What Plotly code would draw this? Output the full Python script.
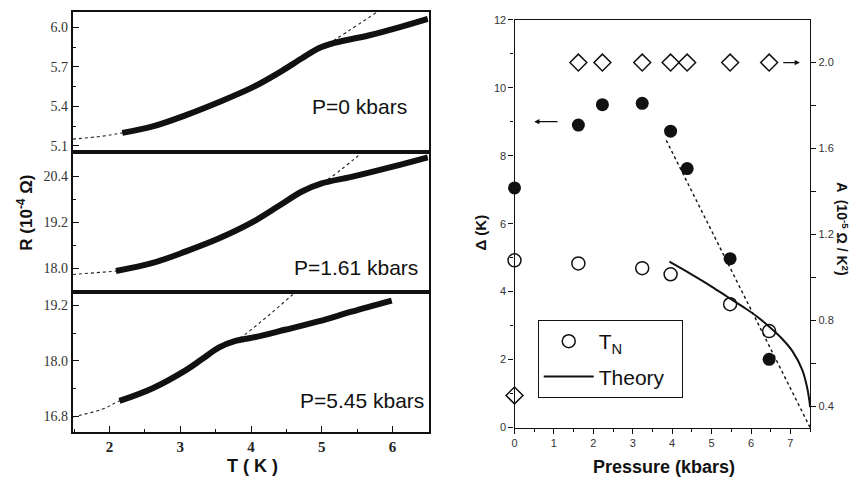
import plotly.graph_objects as go

# ---------------- Left panel data: R(T) at three pressures ----------------
T_p0 = [2.18, 2.61, 3.08, 3.55, 4.02, 4.39, 4.72, 4.95, 5.19, 5.66, 6.13, 6.50]
R_p0 = [5.198, 5.247, 5.333, 5.433, 5.544, 5.655, 5.766, 5.84, 5.885, 5.94, 6.008, 6.067]
Tfit_p0 = [1.48, 1.90, 2.18, 2.61, 3.08, 3.55, 4.02, 4.39, 4.72, 4.95, 5.09, 5.80]
Rfit_p0 = [5.15, 5.173, 5.198, 5.247, 5.333, 5.433, 5.544, 5.655, 5.766, 5.84, 5.877, 6.125]

T_p1 = [2.09, 2.61, 3.08, 3.55, 4.02, 4.39, 4.72, 5.00, 5.42, 5.99, 6.50]
R_p1 = [17.93, 18.14, 18.44, 18.78, 19.20, 19.62, 20.00, 20.21, 20.38, 20.64, 20.89]
Tfit_p1 = [1.48, 1.90, 2.09, 2.61, 3.08, 3.55, 4.02, 4.39, 4.72, 5.00, 5.60]
Rfit_p1 = [17.84, 17.90, 17.93, 18.14, 18.44, 18.78, 19.20, 19.62, 20.00, 20.21, 21.06]

T_p2 = [2.14, 2.61, 3.08, 3.31, 3.55, 3.78, 4.02, 4.48, 4.95, 5.42, 5.99]
R_p2 = [17.135, 17.41, 17.80, 18.04, 18.29, 18.43, 18.50, 18.67, 18.85, 19.06, 19.30]
Tfit_p2 = [1.48, 1.90, 2.14, 2.61, 3.08, 3.31, 3.55, 3.78, 4.70]
Rfit_p2 = [16.79, 16.96, 17.135, 17.41, 17.80, 18.04, 18.29, 18.43, 19.58]

panel_labels = ["P=0 kbars", "P=1.61 kbars", "P=5.45 kbars"]

# ---------------- Right panel data ----------------
P_gap = [0.0, 1.62, 2.23, 3.24, 3.96, 4.38, 5.47, 6.46]
gap = [7.05, 8.90, 9.50, 9.54, 8.72, 7.62, 4.97, 2.01]

P_TN = [0.0, 1.62, 3.24, 3.96, 5.47, 6.46]
TN = [4.92, 4.83, 4.69, 4.51, 3.63, 2.84]

P_A = [0.0, 1.62, 2.23, 3.24, 3.96, 4.38, 5.47, 6.46]
A = [0.45, 2.0, 2.0, 2.0, 2.0, 2.0, 2.0, 2.0]

P_lin = [3.85, 7.5]
gap_lin = [8.45, 0.0]

P_th = [3.93, 4.50, 5.00, 5.40, 5.80, 6.15, 6.50, 6.80, 7.05, 7.30, 7.42, 7.48, 7.50]
TN_th = [4.88, 4.50, 4.15, 3.85, 3.55, 3.27, 2.93, 2.60, 2.25, 1.70, 1.20, 0.80, 0.60]

SANS = "Liberation Sans, Arial, sans-serif"
SERIF = "Liberation Serif, Times New Roman, serif"
BLACK = "#111111"

fig = go.Figure()

def add_panel(T, R, Tf, Rf, xa, ya):
    fig.add_trace(go.Scatter(x=Tf, y=Rf, xaxis=xa, yaxis=ya, mode="lines",
                             line=dict(color="#222222", width=1.1, dash="dot", shape="spline"),
                             showlegend=False))
    fig.add_trace(go.Scatter(x=T, y=R, xaxis=xa, yaxis=ya, mode="lines",
                             line=dict(color=BLACK, width=6, shape="spline"),
                             showlegend=False))

add_panel(T_p0, R_p0, Tfit_p0, Rfit_p0, "x3", "y")
add_panel(T_p1, R_p1, Tfit_p1, Rfit_p1, "x2", "y2")
add_panel(T_p2, R_p2, Tfit_p2, Rfit_p2, "x", "y3")

fig.add_trace(go.Scatter(x=P_lin, y=gap_lin, xaxis="x4", yaxis="y4", mode="lines",
                         line=dict(color=BLACK, width=1.4, dash="dot"), showlegend=False))
fig.add_trace(go.Scatter(x=P_gap, y=gap, xaxis="x4", yaxis="y4", mode="markers",
                         marker=dict(symbol="circle", size=13, color=BLACK),
                         showlegend=False, cliponaxis=False))
fig.add_trace(go.Scatter(x=P_A, y=A, xaxis="x4", yaxis="y5", mode="markers",
                         marker=dict(symbol="diamond-open", size=13, color=BLACK,
                                     line=dict(width=1.5, color=BLACK)),
                         showlegend=False, cliponaxis=False))
fig.add_trace(go.Scatter(x=P_TN, y=TN, xaxis="x4", yaxis="y4", mode="markers",
                         marker=dict(symbol="circle-open", size=13, color=BLACK,
                                     line=dict(width=1.5, color=BLACK)),
                         name="T<sub>N</sub>", legendgroup="a", cliponaxis=False))
fig.add_trace(go.Scatter(x=P_th, y=TN_th, xaxis="x4", yaxis="y4", mode="lines",
                         line=dict(color=BLACK, width=2, shape="spline"),
                         name="Theory\u00a0\u00a0", legendgroup="b"))

XL = [0.0823, 0.5018]
XR = [0.6032, 0.9518]

left_tick_font = dict(family=SERIF, size=14, color="#333333")
common_left_y = dict(showline=True, linecolor=BLACK, linewidth=2, mirror=True,
                     ticks="inside", ticklen=6, tickwidth=1, tickcolor=BLACK,
                     tickfont=left_tick_font, showgrid=False, zeroline=False)
common_left_x = dict(showline=True, linecolor=BLACK, linewidth=2, mirror=True,
                     range=[1.48, 6.51], showgrid=False, zeroline=False, domain=XL)

right_tick_font = dict(family=SANS, size=11, color="#333333")

fig.update_layout(
    width=851, height=486, margin=dict(l=0, r=0, t=0, b=0),
    paper_bgcolor="white", plot_bgcolor="white",
    xaxis=dict(**common_left_x, anchor="y3", ticks="inside", ticklen=6, tickwidth=1,
               tickcolor=BLACK, tick0=2, dtick=1,
               tickfont=dict(family=SERIF, size=15, color="#222222", weight="bold"),
               minor=dict(dtick=0.5, tick0=2, ticks="inside", ticklen=3, tickcolor=BLACK)),
    xaxis2=dict(**common_left_x, anchor="y2", ticks="", showticklabels=False),
    xaxis3=dict(**common_left_x, anchor="y", ticks="", showticklabels=False),
    yaxis=dict(**common_left_y, anchor="x3", domain=[0.6914, 0.9877], range=[5.05, 6.12],
               tick0=5.1, dtick=0.3, tickformat=".1f",
               minor=dict(tick0=5.1, dtick=0.15, ticks="inside", ticklen=3, tickcolor=BLACK)),
    yaxis2=dict(**common_left_y, anchor="x2", domain=[0.3971, 0.6914], range=[17.39, 21.02],
                tick0=18.0, dtick=1.2, tickformat=".1f",
                minor=dict(tick0=18.0, dtick=0.6, ticks="inside", ticklen=3, tickcolor=BLACK)),
    yaxis3=dict(**common_left_y, anchor="x", domain=[0.1008, 0.3971], range=[16.46, 19.49],
                tick0=16.8, dtick=1.2, tickformat=".1f",
                minor=dict(tick0=16.8, dtick=0.6, ticks="inside", ticklen=3, tickcolor=BLACK)),
    xaxis4=dict(domain=XR, anchor="y4", range=[0, 7.5], showline=True, linecolor=BLACK,
                linewidth=1.3, mirror=True, ticks="outside", ticklen=5, tickcolor=BLACK,
                tick0=0, dtick=1, tickfont=right_tick_font, showgrid=False, zeroline=False,
                minor=dict(dtick=0.5, ticks="outside", ticklen=3, tickcolor=BLACK)),
    yaxis4=dict(domain=[0.1105, 0.9712], anchor="x4", range=[0, 12], showline=True,
                linecolor=BLACK, linewidth=1.3, ticks="outside", ticklen=5, tickcolor=BLACK,
                tick0=0, dtick=2, tickfont=right_tick_font, showgrid=False, zeroline=False,
                minor=dict(dtick=1, ticks="outside", ticklen=3, tickcolor=BLACK)),
    yaxis5=dict(overlaying="y4", side="right", anchor="x4", range=[0.3, 2.2],
                showline=True, linecolor=BLACK, linewidth=1.3, ticks="outside", ticklen=5,
                tickcolor=BLACK, tickvals=[0.4, 0.8, 1.2, 1.6, 2.0], tickformat=".1f",
                tickfont=right_tick_font, showgrid=False, zeroline=False,
                minor=dict(tickvals=[0.6, 1.0, 1.4, 1.8], ticks="outside", ticklen=5,
                           tickcolor=BLACK)),
    legend=dict(x=0.6306, y=0.3374, xanchor="left", yanchor="top",
                bordercolor=BLACK, borderwidth=1, bgcolor="white",
                font=dict(family=SANS, size=21, color=BLACK),
                itemwidth=50, tracegroupgap=5, traceorder="grouped"),
    showlegend=True,
)

ann = []
for txt, xr, yc in zip(panel_labels, [0.4783, 0.4912, 0.4994], [0.788, 0.4486, 0.1667]):
    ann.append(dict(text=txt, x=xr, y=yc, xref="paper", yref="paper", xanchor="right",
                    yanchor="middle", showarrow=False,
                    font=dict(family=SANS, size=21, color=BLACK)))
ann.append(dict(text="T ( K )", x=250/851, y=1-472/486, xref="paper", yref="paper",
                xanchor="center", yanchor="middle", showarrow=False,
                font=dict(family=SANS, size=18, color=BLACK, weight="bold")))
ann.append(dict(text="R (10<sup>-4</sup> Ω)", x=22/851, y=1-212/486, xref="paper", yref="paper",
                xanchor="center", yanchor="middle", textangle=-90, showarrow=False,
                font=dict(family=SANS, size=17, color=BLACK, weight="bold")))
ann.append(dict(text="Pressure (kbars)", x=663/851, y=1-473/486, xref="paper", yref="paper",
                xanchor="center", yanchor="middle", showarrow=False,
                font=dict(family=SANS, size=18, color=BLACK, weight="bold")))
ann.append(dict(text="Δ (K)", x=479/851, y=1-232/486, xref="paper", yref="paper",
                xanchor="center", yanchor="middle", textangle=-90, showarrow=False,
                font=dict(family=SANS, size=15, color=BLACK, weight="bold")))
ann.append(dict(text="A  (10<sup>-5</sup> Ω / K<sup>2</sup>)", x=842/851, y=1-228/486,
                xref="paper", yref="paper", xanchor="center", yanchor="middle",
                textangle=90, showarrow=False,
                font=dict(family=SANS, size=14, color=BLACK, weight="bold")))
ann.append(dict(text="", x=0.5, y=9.0, ax=1.13, ay=9.0, xref="x4", yref="y4",
                axref="x4", ayref="y4", showarrow=True, arrowhead=2, arrowsize=0.8,
                arrowwidth=1.3, arrowcolor=BLACK))
ann.append(dict(text="", x=7.24, y=2.0, ax=6.78, ay=2.0, xref="x4", yref="y5",
                axref="x4", ayref="y5", showarrow=True, arrowhead=2, arrowsize=0.8,
                arrowwidth=1.3, arrowcolor=BLACK))
fig.update_layout(annotations=ann)

fig.write_html("out.html")
